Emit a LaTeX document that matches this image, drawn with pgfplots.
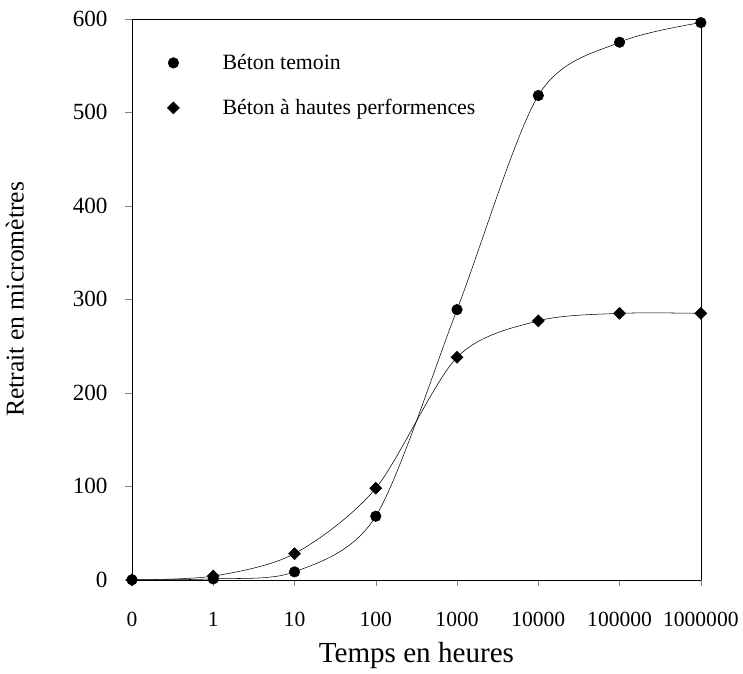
\documentclass[border=0pt]{standalone}
\usepackage{pgfplots}
\pgfplotsset{compat=1.18}
\usepackage{fontspec}
\setmainfont{Liberation Serif}
\begin{document}
\begin{tikzpicture}
\begin{axis}[
  name=ax,
  scale only axis,
  width=430pt, height=424pt,
  xmode=log, log basis x=10,
  xmin=0.1, xmax=1e6,
  ymin=0, ymax=600,
  xtick={0.1,1,10,100,1000,10000,100000,1000000},
  xticklabels={0,1,10,100,1000,10000,100000,1000000},
  ytick={0,100,200,300,400,500,600},
  /pgf/number format/assume math mode=true,
  xticklabel style={font=\fontsize{16.3}{17}\selectfont, yshift=-16pt},
  yticklabel style={font=\fontsize{17.5}{19}\selectfont, xshift=-10pt},
  axis x line*=bottom, axis y line*=left,
  tick align=outside,
  major tick length=5pt, minor tick length=3pt,
  xlabel={Temps en heures},
  ylabel={Retrait en micromètres},
  xlabel style={font=\fontsize{22}{24}\selectfont, yshift=-5pt},
  ylabel style={font=\fontsize{19.4}{21}\selectfont, yshift=30pt},
  legend style={draw=none, fill=none, inner sep=0pt, at={(0.058,0.942)}, anchor=north west,
    font=\fontsize{16.5}{18}\selectfont, row sep=17pt},
  legend cell align=left,
  legend image code/.code={\draw[#1] plot coordinates {(0pt,0pt)}; \path (-6pt,0pt) (35pt,0pt);},
  clip=false,
]
\addplot[black, thin, smooth, mark=*, mark size=4pt, mark options={fill=black}] coordinates {
 (0.1,0) (1,1) (10,8.5) (100,68) (1000,289) (10000,518) (100000,575) (1000000,596)};
\addlegendentry{Béton temoin}
\addplot[black, thin, smooth, mark=square*, mark size=3.2pt, mark options={fill=black, rotate=45}] coordinates {
 (0.1,0) (1,4) (10,28) (100,98) (1000,238) (10000,277) (100000,285) (1000000,285)};
\addlegendentry{Béton à hautes performences}
\draw[black, thin] (rel axis cs:0,1) -- (rel axis cs:1,1) -- (rel axis cs:1,0);
\end{axis}
\path ([shift={(-99.75pt,-69pt)}]ax.south west) rectangle ([shift={(27.75pt,14.25pt)}]ax.north east);
\end{tikzpicture}
\end{document}
